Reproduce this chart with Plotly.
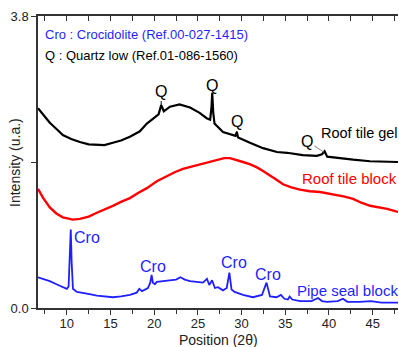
import plotly.graph_objects as go

# ---- data ----
black_x = [6.7, 7.5, 8.05, 9.0, 9.54, 10.5, 11.49, 12.5, 13.44, 14.3, 15.27, 16.2, 17.22,
           18.36, 19.16, 19.9, 20.5, 20.8, 21.1, 21.8, 22.9, 24.1, 25.2, 26.0, 26.4, 26.55,
           26.64, 26.75, 26.9, 27.87, 28.8, 29.3, 29.45, 29.6, 30.96, 32.45, 34.05, 35.2,
           37.0, 38.6, 39.2, 39.5, 39.8, 41.0, 42.76, 44.7, 47.9]
black_y = [2.60, 2.48, 2.41, 2.31, 2.25, 2.20, 2.16, 2.13, 2.12, 2.12, 2.15, 2.18, 2.23,
           2.30, 2.40, 2.46, 2.52, 2.64, 2.56, 2.62, 2.65, 2.61, 2.54, 2.47, 2.45, 2.60,
           2.80, 2.55, 2.40, 2.29, 2.26, 2.24, 2.29, 2.22, 2.15, 2.08, 2.03, 2.02,
           1.99, 1.98, 2.00, 2.04, 1.97, 1.95, 1.93, 1.91, 1.90]

red_x = [6.7, 7.3, 8.05, 8.8, 9.54, 10.69, 11.49, 12.5, 13.44, 14.3, 15.27, 16.2, 17.22,
         18.2, 19.16, 20.3, 21.45, 22.4, 23.29, 24.3, 25.23, 26.2, 27.18, 28.0, 28.67,
         29.4, 30.16, 31.0, 31.76, 32.5, 33.25, 34.0, 34.74, 35.7, 36.69, 37.8, 38.98,
         40.0, 40.93, 41.8, 42.76, 43.7, 44.71, 45.7, 46.66, 47.9]
red_y = [1.55, 1.43, 1.31, 1.23, 1.18, 1.15, 1.16, 1.19, 1.24, 1.28, 1.33, 1.38, 1.43,
         1.50, 1.56, 1.65, 1.72, 1.77, 1.81, 1.84, 1.87, 1.90, 1.93, 1.95, 1.95,
         1.93, 1.90, 1.87, 1.83, 1.78, 1.73, 1.67, 1.61, 1.57, 1.54, 1.52, 1.51,
         1.49, 1.47, 1.45, 1.42, 1.37, 1.33, 1.31, 1.29, 1.25]

blue_x = [6.7, 7.5, 8.05, 9.0, 9.54, 10.0, 10.2, 10.35, 10.45, 10.55, 10.7, 11.15, 11.83,
          12.6, 13.44, 14.3, 15.27, 16.2, 17.22, 18.0, 18.3, 18.6, 19.28, 19.55, 19.7,
          19.85, 20.08, 20.3, 21.0, 21.8, 22.5, 23.0, 23.5, 24.09, 25.0, 25.58, 26.04,
          26.3, 26.62, 26.95, 27.3, 27.87, 28.3, 28.6, 28.85, 29.2, 30.16, 31.3, 32.33,
          32.85, 33.25, 34.0, 34.5, 34.9, 35.3, 35.5, 35.8, 36.7, 38.0, 38.75, 39.2,
          39.78, 41.0, 41.6, 42.1, 43.5, 44.8, 46.0, 47.9]
blue_y = [0.40, 0.37, 0.35, 0.30, 0.27, 0.25, 0.28, 0.65, 1.02, 0.60, 0.25, 0.21, 0.20,
          0.18, 0.16, 0.15, 0.14, 0.15, 0.17, 0.20, 0.25, 0.22, 0.26, 0.33, 0.43,
          0.33, 0.31, 0.34, 0.35, 0.36, 0.37, 0.40, 0.37, 0.35, 0.34, 0.33, 0.38,
          0.30, 0.36, 0.26, 0.27, 0.23, 0.26, 0.46, 0.24, 0.21, 0.17, 0.14, 0.17,
          0.33, 0.15, 0.14, 0.17, 0.12, 0.11, 0.15, 0.11, 0.09, 0.09, 0.13, 0.09,
          0.08, 0.09, 0.12, 0.08, 0.08, 0.09, 0.07, 0.07]

x_ticks = [10, 15, 20, 25, 30, 35, 40, 45]
y_tickvals = [0.0, 1.9, 3.8]
y_ticktext = ["0.0", "", "3.8"]

FONT = "Liberation Sans, Arial, sans-serif"
BLUE = "#1f1fff"
RED = "#ff0000"

fig = go.Figure()
fig.add_trace(go.Scatter(x=black_x, y=black_y, mode="lines",
                         line=dict(color="black", width=2.2), showlegend=False))
fig.add_trace(go.Scatter(x=red_x, y=red_y, mode="lines",
                         line=dict(color=RED, width=2.4), showlegend=False))
fig.add_trace(go.Scatter(x=blue_x, y=blue_y, mode="lines",
                         line=dict(color=BLUE, width=1.8), showlegend=False))
# empty trace to carry the top (mirrored) axis
fig.add_trace(go.Scatter(x=[], y=[], xaxis="x2", showlegend=False, hoverinfo="skip"))

xr = [6.7, 47.9]
fig.update_layout(
    width=399, height=347,
    margin=dict(l=38, r=1, t=16, b=39),
    plot_bgcolor="white", paper_bgcolor="white",
    font=dict(family=FONT, size=13, color="#222"),
    xaxis=dict(range=xr, tickvals=x_ticks, ticks="outside", ticklen=5, tickwidth=1.2,
               tickcolor="#333", showline=True, linecolor="#333", linewidth=1.5,
               showgrid=False, zeroline=False, ticklabelstandoff=-2,
               minor=dict(dtick=2.5, tick0=0, ticks="outside", ticklen=4, tickwidth=1.2,
                          tickcolor="#333", showgrid=False),
               tickfont=dict(size=13, color="#222")),
    xaxis2=dict(range=xr, overlaying="x", side="top", showticklabels=False,
                ticks="inside", ticklen=5, tickwidth=1.2, tickcolor="#333", dtick=2.5, tick0=0,
                showline=True, linecolor="#333", linewidth=1.5, showgrid=False, zeroline=False),
    yaxis=dict(range=[0, 3.8], tickvals=y_tickvals, ticktext=y_ticktext, ticks="outside",
               ticklen=5, tickwidth=1.2, tickcolor="#333", showline=True, linecolor="#333",
               linewidth=1.5, showgrid=False, zeroline=False,
               tickfont=dict(size=13, color="#222")),
)

ann = []
# reference legend text
ann.append(dict(x=0.014, y=0.935, xref="paper", yref="paper", xanchor="left", yanchor="middle",
                text="Cro : Crocidolite (Ref.00-027-1415)", showarrow=False,
                font=dict(size=13, color=BLUE)))
ann.append(dict(x=0.014, y=0.866, xref="paper", yref="paper", xanchor="left", yanchor="middle",
                text="Q : Quartz low (Ref.01-086-1560)", showarrow=False,
                font=dict(size=13, color="black")))
# Q labels
ann.append(dict(x=20.8, y=2.64, text="Q", showarrow=True, arrowhead=0, arrowwidth=1,
                arrowcolor="black", ax=0, ay=-14, font=dict(size=16, color="black")))
ann.append(dict(x=26.64, y=2.90, text="Q", showarrow=False, font=dict(size=16, color="black")))
ann.append(dict(x=29.45, y=2.29, text="Q", showarrow=True, arrowhead=0, arrowwidth=1,
                arrowcolor="black", ax=0, ay=-11, font=dict(size=16, color="black")))
ann.append(dict(x=39.4, y=2.03, text="Q", showarrow=True, arrowhead=0, arrowwidth=1,
                arrowcolor="#888", ax=-17, ay=-11, font=dict(size=16, color="black")))
# sample labels
ann.append(dict(x=43.45, y=2.28, text="Roof tile gel", showarrow=False,
                font=dict(size=14.5, color="black")))
ann.append(dict(x=42.3, y=1.69, text="Roof tile block", showarrow=False,
                font=dict(size=15, color=RED)))
ann.append(dict(x=42.07, y=0.234, text="Pipe seal block", showarrow=False,
                font=dict(size=15, color=BLUE)))
# Cro labels
for cx, cy in [(12.29, 0.924), (19.85, 0.534), (29.13, 0.586), (33.02, 0.43)]:
    ann.append(dict(x=cx, y=cy, text="Cro", showarrow=False, font=dict(size=16, color=BLUE)))
# axis titles
ann.append(dict(x=0.5, y=-0.11, xref="paper", yref="paper", text="Position (2θ)",
                showarrow=False, yanchor="middle", font=dict(size=14, color="#222")))
ann.append(dict(x=-0.064, y=0.5, xref="paper", yref="paper", text="Intensity (u.a.)",
                textangle=-90, showarrow=False, xanchor="center", font=dict(size=14, color="#222")))
fig.update_layout(annotations=ann)

fig.write_html("out.html", config={"displayModeBar": False},
               post_script="document.body.style.margin='0px';document.body.style.overflow='hidden';")
